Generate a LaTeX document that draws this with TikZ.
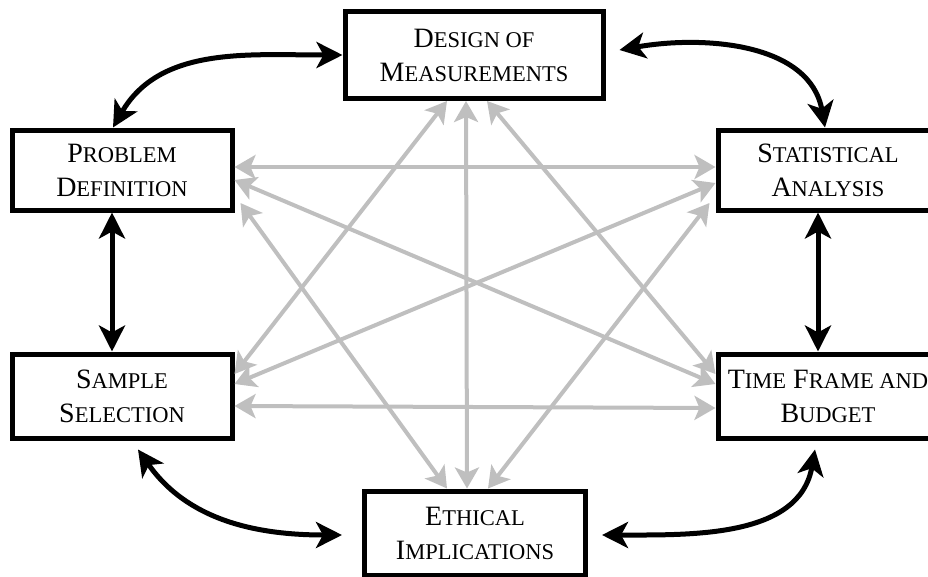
\documentclass[tikz,border=0pt]{standalone}
\usepackage{fontspec}
\setmainfont{Liberation Serif}
\usetikzlibrary{arrows.meta}
\definecolor{crossgray}{RGB}{191,191,191}
\newcommand{\smc}[1]{{\fontsize{22.5}{22.5}\selectfont #1}}

\begin{document}
\begin{tikzpicture}[
            x = 1pt, y = -1pt, % pixel grid, y down
            > = {Stealth[length=26pt, width=26pt, inset=7pt]}, % arrow head style
            link/.style = {<->, line width=5pt, black},
            cross/.style = {<->, line width=4pt, draw=crossgray,
                >={Stealth[length=21pt, width=24pt, inset=5pt]}},
            font = \rmfamily\fontsize{28}{34}\selectfont
        ]

        \tikzstyle{box}=[
            draw = black,
            line width = 5pt,
            fill = white,
            align = center,
            inner sep = 0pt,
            minimum width = 220pt,
            minimum height = 84pt
        ]

        \useasboundingbox (0,0) rectangle (928,576);

        \node[box, minimum width=258pt, minimum height=87pt] (design) at (474,55) {D\smc{ESIGN OF}\\M\smc{EASUREMENTS}};
        \node[box, minimum height=80pt] (problem) at (122,170) {P\smc{ROBLEM}\\D\smc{EFINITION}};
        \node[box, minimum height=80pt] (stats) at (828,170) {S\smc{TATISTICAL}\\A\smc{NALYSIS}};
        \node[box] (sample) at (122,396) {S\smc{AMPLE}\\S\smc{ELECTION}};
        \node[box] (budget) at (828,396) {T\smc{IME} F\smc{RAME AND}\\B\smc{UDGET}};
        \node[box, minimum width=221pt] (ethics) at (475,533) {E\smc{THICAL}\\I\smc{MPLICATIONS}};

        % grey links between the non-neighbours
        \draw[cross] ([shift={(0,-3)}]problem.east) -- ([shift={(0,-3)}]stats.west);
        \draw[cross] ([shift={(0,10)}]problem.east) -- ([shift={(0,-12)}]budget.west);
        \draw[cross] ([shift={(6,33)}]problem.east) -- ([shift={(-28,0)}]ethics.north);
        \draw[cross] ([shift={(-27,0)}]design.south) -- ([shift={(0,-22)}]sample.east);
        \draw[cross] ([shift={(-8,0)}]design.south) -- ([shift={(-8,0)}]ethics.north);
        \draw[cross] ([shift={(13,0)}]design.south) -- ([shift={(0,-22)}]budget.west);
        \draw[cross] ([shift={(0,13)}]stats.west) -- ([shift={(0,-12)}]sample.east);
        \draw[cross] ([shift={(-6,33)}]stats.west) -- ([shift={(13,0)}]ethics.north);
        \draw[cross] ([shift={(0,10)}]sample.east) -- ([shift={(0,12)}]budget.west);

        % black links round the ring
        \draw[link] ([xshift=-9pt]problem.north) to[out=60, in=180] (design.west);
        \draw[link] ([shift={(14,-5)}]design.east) to[out=10, in=100] ([xshift=-3pt]stats.north);
        \draw[link] ([xshift=-10pt]stats.south) -- ([xshift=-10pt]budget.north);
        \draw[link] ([shift={(-13,9)}]budget.south) to[out=-100, in=0] ([shift={(14,2)}]ethics.east);
        \draw[link] ([shift={(16,9)}]sample.south) to[out=-55, in=180] ([shift={(-20,2)}]ethics.west);
        \draw[link] ([xshift=-10pt]problem.south) -- ([xshift=-10pt]sample.north);

  \end{tikzpicture}
\end{document}
